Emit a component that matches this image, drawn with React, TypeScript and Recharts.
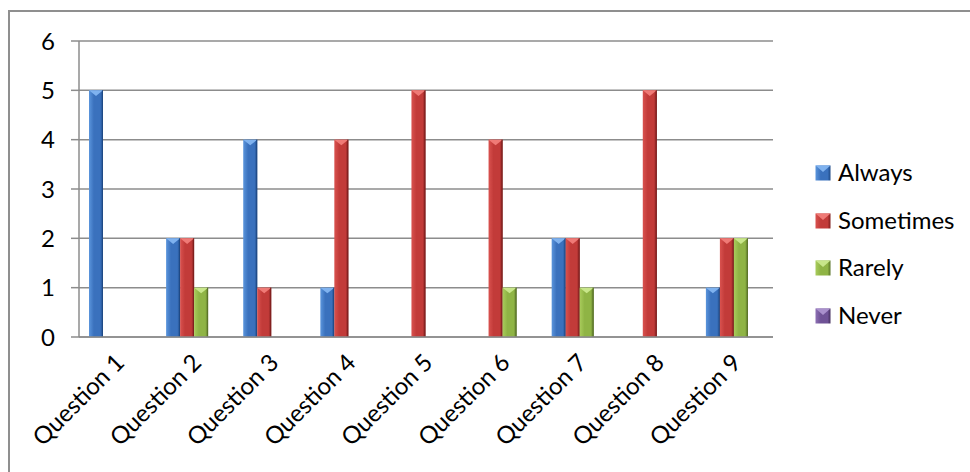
import React from 'react';
import { BarChart, Bar, XAxis, YAxis, CartesianGrid } from 'recharts';

const questions = ['Question 1', 'Question 2', 'Question 3', 'Question 4', 'Question 5', 'Question 6', 'Question 7', 'Question 8', 'Question 9'];
const always = [5, 2, 4, 1, 0, 0, 2, 0, 1];
const sometimes = [0, 2, 1, 4, 5, 4, 2, 5, 2];
const rarely = [0, 1, 0, 0, 0, 1, 1, 0, 2];
const never = [0, 0, 0, 0, 0, 0, 0, 0, 0];
const yTicks = [0, 1, 2, 3, 4, 5, 6];
const boundaries = [0, 1, 2, 3, 4, 5, 6, 7, 8, 9];

const series = [
  { key: 'always', name: 'Always', light: '#5b95dc', base: '#3a71bd', dark: '#1f4a86', cap: '#7fb2ef' },
  { key: 'sometimes', name: 'Sometimes', light: '#d9524f', base: '#c23b39', dark: '#7f1f1e', cap: '#ef7a76' },
  { key: 'rarely', name: 'Rarely', light: '#a9cc5c', base: '#8fb445', dark: '#5a7428', cap: '#c8e68a' },
  { key: 'never', name: 'Never', light: '#8d70b4', base: '#6f5296', dark: '#46315f', cap: '#a990cc' },
];

const data = questions.map((q, i) => ({
  q,
  pos: i + 0.5,
  always: always[i],
  sometimes: sometimes[i],
  rarely: rarely[i],
  never: never[i],
}));

const FONT = 'Lato, "Open Sans", sans-serif';
const GRID = '#8c8c8c';
const FS = 24;

const CylBar = (props: any) => {
  const { x, y, width, height, s } = props;
  if (!height || height <= 0) return null;
  const capH = Math.min(width * 0.4, height);
  return (
    <g>
      <rect x={x} y={y} width={width} height={height} fill={`url(#grad-${s.key})`} />
      <path d={`M${x},${y} L${x + width},${y} L${x + width / 2},${y + capH} Z`} fill={s.cap} />
      <line x1={x + width - 0.5} y1={y} x2={x + width - 0.5} y2={y + height} stroke={s.dark} strokeWidth={1} />
    </g>
  );
};

// labels hang from the tick, rotated like Excel does it
const XTick = (props: any) => {
  const { x, y, payload } = props;
  return (
    <g transform={`translate(${x - 4},${y + 7}) rotate(-45)`}>
      <text x={0} y={0} dy="0.72em" textAnchor="end" fontSize={FS} fontFamily={FONT} fill="#000">
        {payload.value}
      </text>
    </g>
  );
};

const EmptyTick = () => <g />;

const LegendBox = ({ s }: any) => (
  <svg width={16} height={16} style={{ position: 'absolute', left: 0, top: 5 }}>
    <rect x={0.5} y={0.5} width={15} height={15} fill={`url(#grad-${s.key})`} />
    <path d="M0.5,0.5 L15.5,0.5 L8,7 Z" fill={s.cap} />
  </svg>
);

export default function App() {
  return (
    <div style={{ position: 'absolute', left: 0, top: 0, width: 970, height: 472, background: '#fff', overflow: 'hidden', fontFamily: FONT }}>
      <div style={{ position: 'absolute', left: 8, top: 10, width: 1000, height: 500, borderLeft: '2px solid #8f8f8f', borderTop: '2px solid #8f8f8f' }} />
      <BarChart
        width={970}
        height={472}
        data={data}
        margin={{ top: 41, right: 197, left: 19, bottom: 5 }}
        barCategoryGap={10}
        barGap={0}
        style={{ position: 'absolute', left: 0, top: 0 }}
      >
        <defs>
          {series.map((s) => (
            <linearGradient key={s.key} id={`grad-${s.key}`} x1="0" y1="0" x2="1" y2="0">
              <stop offset="0%" stopColor={s.light} />
              <stop offset="35%" stopColor={s.base} />
              <stop offset="80%" stopColor={s.base} />
              <stop offset="100%" stopColor={s.dark} />
            </linearGradient>
          ))}
        </defs>
        <CartesianGrid vertical={false} stroke={GRID} strokeWidth={1.5} />
        <XAxis
          xAxisId="bounds"
          dataKey="pos"
          type="number"
          domain={[0, 9]}
          ticks={boundaries}
          height={0}
          axisLine={false}
          tickLine={{ stroke: GRID, strokeWidth: 1.5 }}
          tickSize={7}
          tick={<EmptyTick />}
          interval={0}
        />
        <XAxis
          dataKey="q"
          height={130}
          axisLine={{ stroke: GRID, strokeWidth: 1.5 }}
          tickLine={false}
          tick={<XTick />}
          interval={0}
        />
        <YAxis
          width={60}
          domain={[0, 6]}
          ticks={yTicks}
          interval={0}
          axisLine={{ stroke: GRID, strokeWidth: 1.5 }}
          tickLine={{ stroke: GRID, strokeWidth: 1.5 }}
          tickSize={8}
          tickMargin={16}
          tick={{ fontSize: FS, fill: '#000', fontFamily: FONT }}
        />
        {series.map((s) => (
          <Bar
            key={s.key}
            dataKey={s.key}
            name={s.name}
            fill={s.base}
            isAnimationActive={false}
            shape={(p: any) => <CylBar {...p} s={s} />}
          />
        ))}
      </BarChart>
      {series.map((s, i) => (
        <div key={s.key} style={{ position: 'absolute', left: 815, top: 160 + i * 47.7, height: 26 }}>
          <LegendBox s={s} />
          <span style={{ position: 'absolute', left: 23, top: 0, fontSize: FS, lineHeight: '24px', color: '#000', whiteSpace: 'nowrap' }}>
            {s.name}
          </span>
        </div>
      ))}
    </div>
  );
}
